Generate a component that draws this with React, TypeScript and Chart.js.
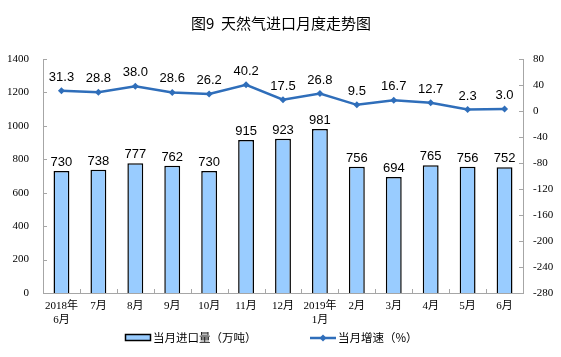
import React, { useEffect, useRef } from "react";
import { Chart, registerables } from "chart.js";

Chart.register(...registerables);

const categories: (string | string[])[] = [
  ["2018年", "6月"], "7月", "8月", "9月", "10月", "11月", "12月",
  ["2019年", "1月"], "2月", "3月", "4月", "5月", "6月",
];
const importVolume = [730, 738, 777, 762, 730, 915, 923, 981, 756, 694, 765, 756, 752];
const growthRate = [31.3, 28.8, 38.0, 28.6, 26.2, 40.2, 17.5, 26.8, 9.5, 16.7, 12.7, 2.3, 3.0];
const growthLabels = ["31.3", "28.8", "38.0", "28.6", "26.2", "40.2", "17.5", "26.8", "9.5", "16.7", "12.7", "2.3", "3.0"];
const titleText = "图9  天然气进口月度走势图";
const barLegend = "当月进口量（万吨）";
const lineLegend = "当月增速（%）";

const BAR_FILL = "#99CCFF";
const LINE_COLOR = "#2F6EBA";
const AXIS_COLOR = "#A6A6A6";
const SERIF = '"Times New Roman", "Liberation Serif", "Noto Sans CJK SC", serif';
const CJK = '"Noto Sans CJK SC", sans-serif';

const customPlugin = {
  id: "custom",
  afterDraw(chart: any) {
    const ctx = chart.ctx;
    const area = chart.chartArea;
    const yL = chart.scales.y;
    const yR = chart.scales.y1;
    const x = chart.scales.x;
    ctx.save();
    // inner tick marks
    ctx.strokeStyle = AXIS_COLOR;
    ctx.lineWidth = 1;
    ctx.beginPath();
    yL.ticks.forEach((t: any) => {
      const py = Math.round(yL.getPixelForValue(t.value)) + 0.5;
      ctx.moveTo(area.left, py);
      ctx.lineTo(area.left + 4, py);
    });
    yR.ticks.forEach((t: any) => {
      const py = Math.round(yR.getPixelForValue(t.value)) + 0.5;
      ctx.moveTo(area.right, py);
      ctx.lineTo(area.right - 4, py);
    });
    for (let i = 0; i <= categories.length; i++) {
      const px = Math.round(x.getPixelForValue(i - 0.5)) + 0.5;
      ctx.moveTo(px, area.bottom);
      ctx.lineTo(px, area.bottom - 4);
    }
    ctx.stroke();

    // data labels
    ctx.fillStyle = "#000";
    ctx.font = '13px "Liberation Sans", Arial, sans-serif';
    ctx.textAlign = "center";
    ctx.textBaseline = "alphabetic";
    const barMeta = chart.getDatasetMeta(0);
    barMeta.data.forEach((el: any, i: number) => {
      ctx.fillText(String(importVolume[i]), el.x, el.y - 5);
    });
    const lineMeta = chart.getDatasetMeta(1);
    lineMeta.data.forEach((el: any, i: number) => {
      ctx.fillText(growthLabels[i], el.x, el.y - 10);
    });

    // title
    ctx.font = "15px " + CJK;
    ctx.textBaseline = "middle";
    ctx.fillText(titleText, 281, 23);

    // legend
    const ly = 338;
    ctx.fillStyle = BAR_FILL;
    ctx.fillRect(125.5, ly - 3.5, 25, 6);
    ctx.strokeStyle = "#000";
    ctx.lineWidth = 1.5;
    ctx.strokeRect(125.5, ly - 3.5, 25, 6);
    ctx.fillStyle = "#000";
    ctx.font = "11.5px " + CJK;
    ctx.textAlign = "left";
    ctx.fillText(barLegend, 153, ly);

    ctx.strokeStyle = LINE_COLOR;
    ctx.lineWidth = 2.5;
    ctx.beginPath();
    ctx.moveTo(310, ly);
    ctx.lineTo(336, ly);
    ctx.stroke();
    ctx.fillStyle = LINE_COLOR;
    ctx.beginPath();
    ctx.moveTo(323, ly - 3.5);
    ctx.lineTo(326.5, ly);
    ctx.lineTo(323, ly + 3.5);
    ctx.lineTo(319.5, ly);
    ctx.closePath();
    ctx.fill();
    ctx.fillStyle = "#000";
    ctx.fillText(lineLegend, 338, ly);
    ctx.restore();
  },
};

export default function App() {
  const ref = useRef<HTMLCanvasElement>(null);
  useEffect(() => {
    if (!ref.current) return;
    const chart = new Chart(ref.current, {
      type: "bar",
      data: {
        labels: categories,
        datasets: [
          {
            type: "bar",
            label: barLegend,
            data: importVolume,
            backgroundColor: BAR_FILL,
            borderColor: "#000",
            borderWidth: 1.5,
            categoryPercentage: 1,
            barPercentage: 0.43,
            yAxisID: "y",
            order: 2,
          },
          {
            type: "line",
            label: lineLegend,
            data: growthRate,
            borderColor: LINE_COLOR,
            backgroundColor: LINE_COLOR,
            borderWidth: 2.5,
            pointStyle: "rectRot",
            pointRadius: 3.5,
            pointBorderWidth: 0,
            tension: 0,
            yAxisID: "y1",
            order: 1,
          } as any,
        ],
      },
      options: {
        responsive: false,
        animation: false,
        layout: { padding: { top: 59, left: 0, right: 0, bottom: 0 } },
        plugins: {
          legend: { display: false },
          title: { display: false },
          tooltip: { enabled: false },
        },
        scales: {
          x: {
            offset: true,
            grid: { display: false, drawTicks: false },
            border: { display: true, color: AXIS_COLOR, width: 1 },
            ticks: {
              padding: 7,
              maxRotation: 0,
              autoSkip: false,
              color: "#000",
              font: { size: 11, family: SERIF, lineHeight: 1.2 },
            },
            afterFit: (s: any) => { s.height = 64; },
          },
          y: {
            position: "left",
            min: 0,
            max: 1400,
            grid: { display: false, drawTicks: false },
            border: { display: true, color: AXIS_COLOR, width: 1 },
            ticks: {
              stepSize: 200,
              padding: 14,
              color: "#000",
              font: { size: 11, family: SERIF },
              callback: (v: any) => String(v),
            },
            afterFit: (s: any) => { s.width = 43; },
          },
          y1: {
            position: "right",
            min: -280,
            max: 80,
            grid: { display: false, drawTicks: false },
            border: { display: true, color: AXIS_COLOR, width: 1 },
            ticks: {
              stepSize: 40,
              padding: 10,
              color: "#000",
              font: { size: 11, family: SERIF },
              callback: (v: any) => String(v),
            },
            afterFit: (s: any) => { s.width = 38; },
          },
        },
      },
      plugins: [customPlugin],
    });
    return () => chart.destroy();
  }, []);
  return (
    <div style={{ position: "fixed", left: 0, top: 0, width: 561, height: 357, background: "#fff" }}>
      <canvas ref={ref} width={561} height={357} style={{ width: 561, height: 357 }} />
    </div>
  );
}
